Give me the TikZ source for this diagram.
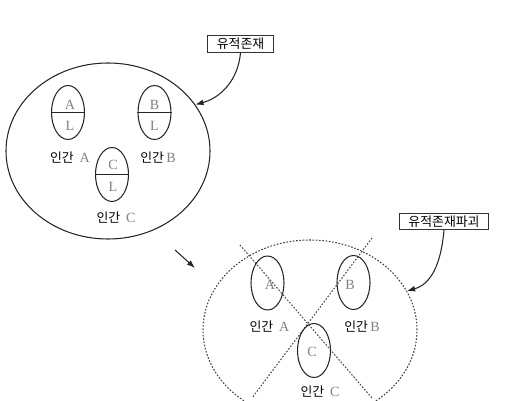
\documentclass[tikz,border=0pt]{standalone}
\usepackage{fontspec}
\setmainfont{Liberation Serif}
\newfontfamily\kr{Noto Sans CJK KR}
\usepackage{tikz}
\usetikzlibrary{shapes.geometric, arrows.meta}

\begin{document}
\begin{tikzpicture}[
    x=0.03cm, y=-0.03cm,
    world/.style={ellipse, draw=black!85, line width=0.9pt, minimum width=6.12cm, minimum height=5.28cm, inner sep=0pt},
    ruin/.style={ellipse, draw=black!75, line width=0.9pt, dash pattern=on 1.4pt off 1.4pt, minimum width=6.42cm, minimum height=5.40cm, inner sep=0pt},
    person/.style={ellipse, draw=black!85, line width=0.9pt, minimum width=0.99cm, minimum height=1.62cm, inner sep=0pt},
    letter/.style={text=black!50, font=\fontsize{12}{13}\selectfont, inner sep=0pt},
    human/.style={inner sep=0pt, font=\kr\fontsize{11}{13}\selectfont},
    tag/.style={draw=black!80, line width=0.9pt, inner xsep=8pt, inner ysep=2pt, font=\kr\fontsize{11}{13}\selectfont},
    arrow/.style={-{Latex[length=7pt, width=5pt]}, line width=0.9pt, black!85},
    cut/.style={black!70, line width=0.9pt, dash pattern=on 1.4pt off 1.4pt}
]
    \clip (0,0) rectangle (531,401);
    \useasboundingbox (0,0) rectangle (531,401);

    % before: three humans inside the whole
    \node[world] (w) at (108.00, 151.00) {};
    \node[person] (hA) at (68.00, 112.50) {};
    \node[person] (hB) at (154.50, 112.50) {};
    \node[person] (hC) at (112.00, 174.50) {};
    \foreach \h in {hA, hB, hC}
        \draw[line width=0.9pt, black!85] (\h.west) -- (\h.east);
    \node[letter] at (70.00, 105.00) {A};
    \node[letter] at (70.00, 126.00) {L};
    \node[letter] at (154.50, 105.00) {B};
    \node[letter] at (154.50, 126.00) {L};
    \node[letter] at (113.00, 165.00) {C};
    \node[letter] at (113.00, 187.00) {L};
    \node[human] (lA) at (70.00, 158.00) {인간\hspace{5pt}{\rmfamily\color{black!50}\fontsize{12}{13}\selectfont A}};
    \node[human] (lB) at (158.00, 158.00) {인간\hspace{2pt}{\rmfamily\color{black!50}\fontsize{12}{13}\selectfont B}};
    \node[human] (lC) at (116.00, 218.00) {인간\hspace{5pt}{\rmfamily\color{black!50}\fontsize{12}{13}\selectfont C}};

    \node[tag] (t1) at (240.50, 44.00) {유적존재};
    \draw[arrow] (t1.south) to[out=-95, in=15] (w.28);

    % transition
    \coordinate (m1) at (175.00, 250.00);
    \coordinate (m2) at (195.00, 268.00);
    \draw[arrow] (m1) -- (m2);

    % after: the whole broken apart
    \node[ruin] (r) at (310.00, 330.00) {};
    \coordinate (c1) at (240.00, 245.00);
    \coordinate (c2) at (372.00, 398.00);
    \coordinate (c3) at (372.00, 238.00);
    \coordinate (c4) at (252.00, 398.00);
    \draw[cut] (c1) -- (c2);
    \draw[cut] (c3) -- (c4);
    \node[person] (dA) at (267.50, 283.00) {};
    \node[person] (dB) at (353.50, 282.50) {};
    \node[person] (dC) at (314.00, 350.50) {};
    \node[letter] at (270.00, 285.00) {A};
    \node[letter] at (350.00, 285.00) {B};
    \node[letter] at (312.00, 352.00) {C};
    \node[human] (kA) at (269.50, 327.00) {인간\hspace{5pt}{\rmfamily\color{black!50}\fontsize{12}{13}\selectfont A}};
    \node[human] (kB) at (362.00, 327.00) {인간\hspace{2pt}{\rmfamily\color{black!50}\fontsize{12}{13}\selectfont B}};
    \node[human] (kC) at (320.00, 392.00) {인간\hspace{5pt}{\rmfamily\color{black!50}\fontsize{12}{13}\selectfont C}};

    \node[tag] (t2) at (444.00, 221.50) {유적존재파괴};
    \draw[arrow] (t2.south) to[out=-95, in=15] (r.22);
\end{tikzpicture}
\end{document}
